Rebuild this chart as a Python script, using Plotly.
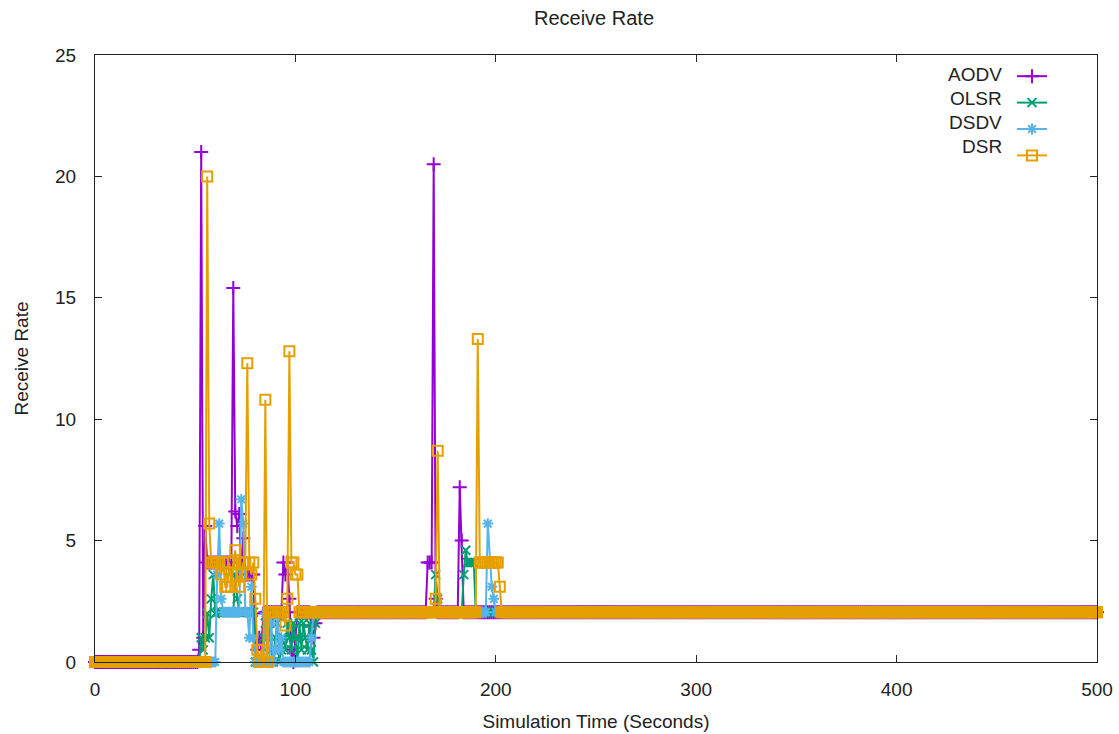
import plotly.graph_objects as go

# ---- data ----
# time axis: one sample per second, 0..500 s
TIME_START = 0
TIME_END = 500

# each series as (start time, value) steps: the value holds until the next start
AODV_STEPS = [(0, 0), (52, 0.5), (53, 21.0), (54, 1.0), (55, 5.6), (56, 4.1), (68, 3.6),
              (69, 15.4), (70, 6.2), (71, 5.6), (72, 6.1), (73, 3.6), (74, 5.1), (75, 3.6),
              (80, 1.0), (81, 0.5), (82, 1.0), (83, 0.5), (84, 2.0), (85, 2.05), (94, 4.1),
              (95, 3.6), (96, 4.1), (97, 2.6), (98, 0.5), (99, 0), (100, 1.0), (101, 2.05),
              (108, 1.5), (109, 1.0), (110, 1.6), (111, 2.05), (166, 4.1), (169, 20.5),
              (170, 2.6), (171, 2.05), (182, 7.2), (183, 5.0), (184, 2.05)]

OLSR_STEPS = [(0, 0), (53, 1.0), (54, 0.5), (55, 1.0), (56, 2.0), (57, 1.0), (58, 2.6),
              (59, 3.6), (60, 2.0), (61, 2.05), (70, 3.6), (71, 2.6), (72, 2.05), (80, 0),
              (84, 1.0), (85, 1.6), (86, 1.0), (87, 1.6), (88, 0.5), (89, 0), (90, 1.0),
              (91, 1.6), (92, 0), (93, 0.5), (94, 1.0), (95, 0.5), (96, 1.6), (97, 1.0),
              (98, 0.5), (99, 1.6), (100, 1.0), (101, 0), (102, 1.6), (103, 0.5), (104, 1.6),
              (105, 1.0), (106, 0.5), (107, 1.6), (108, 0.5), (109, 0), (110, 1.6),
              (111, 2.05), (170, 3.6), (171, 2.6), (172, 2.05), (184, 3.6), (185, 4.6),
              (186, 4.1), (190, 2.05)]

DSDV_STEPS = [(0, 0), (61, 3.6), (62, 5.7), (63, 2.6), (64, 2.05), (73, 6.7), (74, 5.7),
              (75, 2.05), (77, 1.0), (78, 3.1), (79, 1.0), (80, 0), (85, 2.0), (86, 0),
              (88, 1.6), (89, 0), (90, 0.5), (91, 2.0), (92, 0.5), (93, 1.0), (94, 0),
              (108, 1.0), (109, 2.0), (110, 2.05), (196, 5.7), (197, 4.1), (198, 3.1),
              (199, 2.6), (200, 2.05)]

DSR_STEPS = [(0, 0), (56, 20.0), (57, 5.7), (58, 4.1), (63, 3.6), (64, 4.1), (65, 3.1),
             (67, 4.1), (68, 3.1), (69, 4.1), (70, 4.6), (71, 3.6), (72, 3.1), (73, 3.6),
             (74, 4.1), (76, 12.3), (77, 4.1), (78, 3.6), (79, 4.1), (80, 2.6), (81, 0.5),
             (82, 0), (83, 0.5), (84, 0), (85, 10.8), (86, 0), (87, 2.05), (95, 1.5),
             (96, 2.6), (97, 12.8), (98, 4.1), (100, 3.6), (102, 2.05), (170, 2.6),
             (171, 8.7), (172, 2.05), (191, 13.3), (192, 4.1), (202, 3.1), (203, 2.05)]

SERIES_NAMES = ["AODV", "OLSR", "DSDV", "DSR"]
X_TICKS = [0, 100, 200, 300, 400, 500]
Y_TICKS = [0, 5, 10, 15, 20, 25]


def expand(steps):
    t = list(range(TIME_START, TIME_END + 1))
    vals = []
    idx = 0
    for ti in t:
        while idx + 1 < len(steps) and steps[idx + 1][0] <= ti:
            idx += 1
        vals.append(steps[idx][1])
    return t, vals


COLORS = ["#9400D3", "#009E73", "#56B4E9", "#E69F00"]
SYMBOLS = ["cross-thin", "x-thin", "asterisk", "square-open"]
SIZES = [10, 9, 9, 10]

fig = go.Figure()
for name, steps, color, sym, sz in zip(SERIES_NAMES, [AODV_STEPS, OLSR_STEPS, DSDV_STEPS, DSR_STEPS],
                                      COLORS, SYMBOLS, SIZES):
    t, v = expand(steps)
    fig.add_trace(go.Scatter(
        x=t, y=v, mode="lines+markers", name="",
        line=dict(color=color, width=2),
        marker=dict(symbol=sym, size=sz, color=color, line=dict(color=color, width=2)),
        cliponaxis=False, hovertext=name,
    ))

FONT = "Liberation Sans, Arial, sans-serif"
PLOT_L, PLOT_R, PLOT_T, PLOT_B = 95, 1097, 55, 662
W, H = 1119, 734
pw, ph = PLOT_R - PLOT_L, PLOT_B - PLOT_T

legend_rows = [74, 98, 122, 146]
annotations = []
for name, yy in zip(SERIES_NAMES, legend_rows):
    annotations.append(dict(
        text=name, xref="paper", yref="paper",
        x=(1004 - PLOT_L) / pw, y=(PLOT_B - yy) / ph,
        xanchor="right", yanchor="middle", showarrow=False,
        font=dict(family=FONT, size=19, color="#222222"),
    ))

axis_common = dict(
    showline=True, linecolor="#222222", linewidth=1, mirror="ticks",
    ticks="inside", ticklen=7, tickcolor="#222222", tickwidth=1,
    showgrid=False, zeroline=False, automargin=False,
    tickfont=dict(family=FONT, size=19, color="#222222"),
)

fig.update_layout(
    width=W, height=H,
    margin=dict(l=PLOT_L, r=W - PLOT_R, t=PLOT_T, b=H - PLOT_B, autoexpand=False),
    paper_bgcolor="white", plot_bgcolor="white",
    font=dict(family=FONT, size=19, color="#222222"),
    title=dict(text="Receive Rate", x=594 / W, xanchor="center",
               y=1 - 18 / H, yanchor="middle", yref="container",
               font=dict(family=FONT, size=20, color="#222222")),
    xaxis=dict(range=[0, 500], tickvals=X_TICKS, ticklabelstandoff=10,
               title=dict(text="Simulation Time (Seconds)", standoff=15,
                          font=dict(family=FONT, size=19, color="#222222")),
               **axis_common),
    yaxis=dict(range=[0, 25], tickvals=Y_TICKS, ticklabelstandoff=14,
               title=dict(text="Receive Rate", standoff=21,
                          font=dict(family=FONT, size=19, color="#222222")),
               **axis_common),
    showlegend=True,
    legend=dict(x=(1012 - PLOT_L) / pw, y=(PLOT_B - 58) / ph, xanchor="left", yanchor="top",
                bgcolor="rgba(0,0,0,0)", font=dict(family=FONT, size=18),
                itemwidth=30, tracegroupgap=0),
    annotations=annotations,
)

fig.write_html("out.html", config={"displayModeBar": False},
               post_script="document.body.style.margin='0';")
